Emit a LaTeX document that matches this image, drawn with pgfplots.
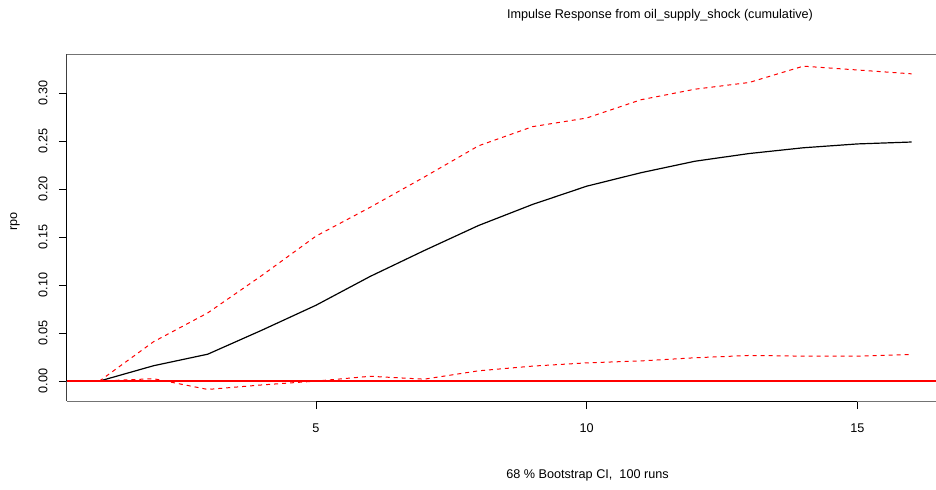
\documentclass[border=0pt]{standalone}
\usepackage{fontspec}
\setmainfont{Liberation Sans}
\usepackage{pgfplots}
\pgfplotsset{compat=1.18}
\begin{document}
\begin{tikzpicture}[font=\fontsize{6.35}{7.6}\selectfont]
\begin{axis}[
  scale only axis,
  width=438.6bp, height=173.5bp,
  xmin=0.4, xmax=16.6, ymin=-0.0208, ymax=0.3406,
  clip=false,
  axis line style={draw=none},
  tick pos=left, tick align=outside,
  major tick length=4bp,
  every tick/.style={black, line width=0.5bp},
  xtick={5,10,15},
  ytick={0,0.05,0.1,0.15,0.2,0.25,0.3},
  /pgf/number format/assume math mode=true,
  yticklabel style={rotate=90, anchor=center, inner sep=0pt,
    /pgf/number format/.cd, fixed, fixed zerofill, precision=2},
  xticklabel style={anchor=center, inner sep=0pt},
  xticklabel shift=9.5bp,
  yticklabel shift=8bp,
]
% plot box (right side lies outside the picture)
\draw[black!55, line width=0.55bp] (axis cs:0.4,0.3406) -- (axis cs:16.6,0.3406);
\draw[black!55, line width=0.55bp] (axis cs:0.4,-0.0208) -- (axis cs:16.6,-0.0208);
\draw[black!75, line width=0.55bp] (axis cs:0.4,-0.0208) -- (axis cs:0.4,0.3406);
\draw[black, line width=0.5bp] (axis cs:5,-0.0208) -- (axis cs:15,-0.0208);
\draw[black, line width=0.5bp] (axis cs:0.4,0) -- (axis cs:0.4,0.3);
% cumulative response
\addplot[black, line width=0.6bp] coordinates {
  (1,0) (2,0.016) (3,0.028) (4,0.053) (5,0.079) (6,0.109) (7,0.136)
  (8,0.162) (9,0.184) (10,0.203) (11,0.217) (12,0.229) (13,0.237)
  (14,0.243) (15,0.247) (16,0.249)
};
% upper band
\addplot[red, line width=0.5bp, dash pattern=on 2bp off 2bp] coordinates {
  (1,0) (2,0.041) (3,0.071) (4,0.110) (5,0.151) (6,0.181) (7,0.2125)
  (8,0.245) (9,0.265) (10,0.274) (11,0.293) (12,0.304) (13,0.311)
  (14,0.328) (15,0.324) (16,0.320)
};
% lower band
\addplot[red, line width=0.5bp, dash pattern=on 2bp off 2bp] coordinates {
  (1,0) (2,0.0025) (3,-0.0087) (4,-0.004) (5,0.000) (6,0.005) (7,0.002)
  (8,0.0107) (9,0.0156) (10,0.019) (11,0.021) (12,0.0243) (13,0.0267)
  (14,0.026) (15,0.026) (16,0.0278)
};
% zero line
\addplot[draw=red, solid, line width=0.6bp] coordinates {(0.4,0) (16.6,0)};
\node at (axis cs:11.353,0.38125) {Impulse Response from oil\_supply\_shock (cumulative)};
\node at (axis cs:10.014,-0.0986) {68 \% Bootstrap CI,\ \ 100 runs};
\node[rotate=90] at (axis cs:-0.5586,0.166) {rpo};
\coordinate (bl) at (axis cs:-0.8357,-0.1125);
\coordinate (tr) at (axis cs:16.45,0.3969);
\end{axis}
\pgfresetboundingbox
\useasboundingbox (bl) rectangle (tr);
\end{tikzpicture}
\end{document}
